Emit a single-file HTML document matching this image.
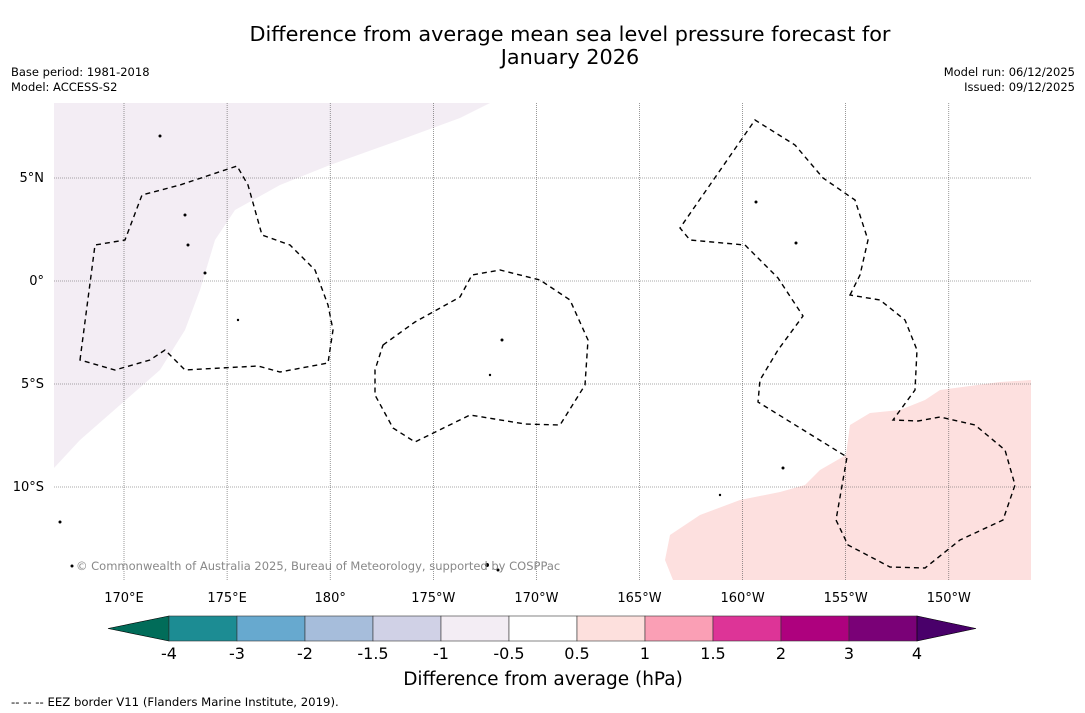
<!DOCTYPE html>
<html><head><meta charset="utf-8"><style>
body{margin:0;background:#fff;font-family:"Liberation Sans","DejaVu Sans",sans-serif;}
svg{display:block}
</style></head><body>
<svg id="chart" width="1085" height="713" xmlns="http://www.w3.org/2000/svg" font-family="DejaVu Sans, Liberation Sans, sans-serif">
<rect width="1085" height="713" fill="#fff"/>
<text x="570" y="41" text-anchor="middle" font-size="20.8">Difference from average mean sea level pressure forecast for</text>
<text x="570" y="64" text-anchor="middle" font-size="20.8">January 2026</text>
<text x="11" y="76" font-size="11.5">Base period: 1981-2018</text>
<text x="11" y="91" font-size="11.5">Model: ACCESS-S2</text>
<text x="1075" y="76" font-size="11.5" text-anchor="end">Model run: 06/12/2025</text>
<text x="1075" y="91" font-size="11.5" text-anchor="end">Issued: 09/12/2025</text>
<g>
<clipPath id="cp"><rect x="54" y="103" width="977" height="477"/></clipPath>
<g clip-path="url(#cp)">
<path fill="#f3edf4" d="M54,103 L490,103 L460,118 L400,140 L330,165 L280,185 L235,210 L215,240 L200,290 L185,330 L160,370 L120,405 L80,440 L54,468 Z"/>
<path fill="#fde0df" d="M1031,380 L1000,382 L940,390 L925,400 L900,410 L870,413 L850,425 L846,455 L820,470 L805,485 L780,492 L740,500 L700,515 L670,535 L665,560 L673,580 L1031,580 Z"/>
<g id="grid" stroke="#555" stroke-width="0.6" stroke-dasharray="1,1"></g>
<g fill="none" stroke="#000" stroke-width="1.4" stroke-dasharray="5,4">
<path d="M80,360 L95,245 L125,240 L142,195 L180,185 L237,166 L248,185 L262,235 L290,245 L315,270 L328,305 L333,330 L328,363 L280,372 L258,366 L185,370 L165,350 L150,360 L115,370 Z"/>
<path d="M383,345 L415,322 L460,297 L472,275 L500,270 L540,280 L570,300 L588,340 L585,385 L560,425 L525,424 L470,415 L415,442 L393,428 L375,395 L375,370 Z"/>
<path d="M850,295 L860,275 L868,240 L855,200 L823,178 L795,145 L755,120 L680,228 L690,240 L745,245 L778,278 L803,316 L778,350 L760,380 L758,402 L847,457 L836,520 L848,545 L890,567 L925,568 L960,540 L1003,520 L1015,485 L1005,450 L975,425 L940,417 L918,421 L893,420 L915,390 L917,350 L905,320 L880,300 Z"/>
</g>
<g fill="#000">
<circle cx="160" cy="136" r="1.5"/><circle cx="185" cy="215" r="1.5"/><circle cx="188" cy="245" r="1.5"/><circle cx="205" cy="273" r="1.5"/><circle cx="238" cy="320" r="1.2"/><circle cx="502" cy="340" r="1.5"/><circle cx="490" cy="375" r="1.2"/><circle cx="756" cy="202" r="1.5"/><circle cx="796" cy="243" r="1.5"/><circle cx="783" cy="468" r="1.5"/><circle cx="720" cy="495" r="1.2"/><circle cx="487" cy="565" r="2"/><circle cx="498" cy="570" r="1.5"/><circle cx="60" cy="522" r="1.5"/><circle cx="72" cy="566" r="1.5"/>
</g>
</g>
<text x="76" y="570" font-size="11.5" fill="#888">© Commonwealth of Australia 2025, Bureau of Meteorology, supported by COSPPac</text>
</g>
<g id="axes" font-size="13"></g>
<g id="cbar"></g>
<text x="543" y="685" text-anchor="middle" font-size="18.5">Difference from average (hPa)</text>
<text x="11" y="706" font-size="11.7">--  --  -- EEZ border V11 (Flanders Marine Institute, 2019).</text>
</svg>
<script>
const lonLabels=["170°E","175°E","180°","175°W","170°W","165°W","160°W","155°W","150°W"];
const lonValues=[170,175,180,185,190,195,200,205,210];
const latLabels=["5°N","0°","5°S","10°S"];
const latValues=[5,0,-5,-10];
const cbarTicks=["-4","-3","-2","-1.5","-1","-0.5","0.5","1","1.5","2","3","4"];
const cbarColors=["#1c8c93","#67a9cf","#a6bddb","#d0d1e6","#f3edf4","#ffffff","#fde0dd","#fa9fb5","#dd3497","#ae017e","#7a0177"];
const ns="http://www.w3.org/2000/svg";
const xOf=l=>124+(l-170)*20.62;
const yOf=l=>281-l*20.6;
const grid=document.getElementById('grid'),axes=document.getElementById('axes'),cb=document.getElementById('cbar');
function mk(t,a,p){const e=document.createElementNS(ns,t);for(const k in a)e.setAttribute(k,a[k]);p.appendChild(e);return e;}
lonValues.forEach((v,i)=>{
 const l=mk('line',{x1:xOf(v),x2:xOf(v),y1:103,y2:580},grid);
 
 
 const t=mk('text',{x:xOf(v),y:602,'text-anchor':'middle'},axes);t.textContent=lonLabels[i];
 
 
});
latValues.forEach((v,i)=>{
 const l=mk('line',{x1:54,x2:1031,y1:yOf(v),y2:yOf(v)},grid);
 
 
 const t=mk('text',{x:44,y:yOf(v)+4,'text-anchor':'end'},axes);t.textContent=latLabels[i];
 
 
});
const x0=169,w=68,y0=616,h=25;
const lt=mk('polygon',{points:`${x0},${y0} ${x0},${y0+h} 108,${y0+h/2}`,fill:'#016c59',stroke:'#000','stroke-width':0.6},cb);


cbarColors.forEach((c,i)=>{
 const r=mk('rect',{x:x0+i*w,y:y0,width:w,height:h,fill:c,stroke:'#333','stroke-width':0.6},cb);
 
 
});
const xe=x0+cbarColors.length*w;
const rt=mk('polygon',{points:`${xe},${y0} ${xe},${y0+h} 976,${y0+h/2}`,fill:'#49006a',stroke:'#000','stroke-width':0.6},cb);


cbarTicks.forEach((s,i)=>{
 const t=mk('text',{x:x0+i*w,y:659,'text-anchor':'middle','font-size':16},cb);t.textContent=s;
 
 
});
</script>
</body></html>
